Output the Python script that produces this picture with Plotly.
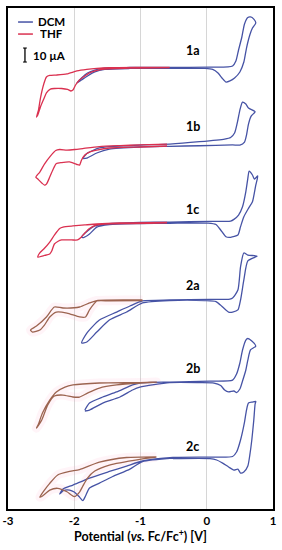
import plotly.graph_objects as go

# ---------------- data (potential V vs Fc/Fc+, current µA relative to each trace's baseline) -------------
compounds = ["1a", "1b", "1c", "2a", "2b", "2c"]
offsets_uA = [315.4, 260.0, 204.3, 149.3, 90.7, 36.4]
label_rel_uA = [11.8, 12.9, 10.0, 10.7, 10.0, 7.9]
label_v = -0.21

v_1a_dcm = [-1.96, -1.89, -1.80, -1.69, -1.54, -1.16, -0.56, 0.05, 0.32, 0.39, 0.44, 0.48, 0.53, 0.57, 0.62, 0.66, 0.71, 0.74,
            0.69, 0.65, 0.60, 0.56, 0.50, 0.42, 0.35, 0.29, 0.23, 0.17, 0.09, -0.03, -0.56, -1.16, -1.54, -1.69, -1.80, -1.89, -1.96]
i_1a_dcm = [-11.1, -7.5, -3.9, -1.8, -0.4, 0, 0.1, 0.2, 0.4, 1.1, 4.6, 12.5, 21.8, 31.1, 35.7, 36.1, 34.6, 31.8,
            28.2, 23.2, 13.9, 3.9, -3.2, -7.5, -9.6, -10.4, -7.5, -3.9, -1.4, -0.7, -0.6, -0.7, -1.4, -3.2, -6.1, -8.9, -11.1]
v_1a_thf = [-0.56, -1.16, -1.54, -1.66, -1.77, -1.84, -1.92, -1.98, -2.02, -2.05, -2.10, -2.19, -2.30, -2.36, -2.42, -2.46, -2.51, -2.55, -2.57,
            -2.54, -2.51, -2.46, -2.42, -2.37, -2.27, -2.11, -1.96, -1.81, -1.66, -1.47, -1.01, -0.56]
i_1a_thf = [0, -0.4, -1.1, -2.1, -3.9, -6.1, -8.9, -12.5, -16.1, -16.8, -15.7, -15, -15, -15.4, -18.2, -22.5, -28.2, -33.9, -35.4,
            -30.4, -21.8, -11.8, -6.8, -5.7, -5.4, -4.6, -2.5, -1.4, -0.7, -0.2, 0, 0.1]

v_1b_dcm = [-1.87, -1.80, -1.62, -1.47, -1.01, -0.56, -0.11, 0.27, 0.36, 0.42, 0.47, 0.50, 0.54, 0.59, 0.63, 0.73,
            0.67, 0.63, 0.60, 0.57, 0.50, 0.39, -0.11, -0.56, -1.01, -1.47, -1.66, -1.81, -1.87]
i_1b_dcm = [-9.3, -5.7, -2.1, -1.1, 0, 0.7, 2.4, 4.3, 5.4, 8.6, 17.9, 25, 30.7, 29.3, 26.4, 23.8,
            20.7, 15, 7.1, 2.1, 0, 0.1, -0.5, -0.9, -1.4, -2.9, -5.7, -9.3, -9.6]
v_1b_thf = [-0.60, -1.01, -1.47, -1.66, -1.77, -1.84, -1.89, -1.92, -1.96, -2.07, -2.19, -2.27, -2.31, -2.37, -2.42, -2.45, -2.49, -2.55, -2.58,
            -2.52, -2.45, -2.36, -2.28, -2.22, -2.11, -1.99, -1.87, -1.62, -1.31, -1.01, -0.60]
i_1b_thf = [-0.7, -1.4, -2.1, -3.6, -5, -7.1, -10.7, -14.3, -13.9, -12.1, -12.5, -13.2, -16.4, -22.9, -27.9, -28.6, -27.1, -24.3, -22.9,
            -19.3, -13.6, -7.9, -3.9, -3.2, -3.6, -3.2, -2.5, -1.1, -0.4, 0.1, 0.7]

v_1c_dcm = [-1.89, -1.80, -1.69, -1.54, -1.01, -0.56, 0.05, 0.36, 0.41, 0.48, 0.54, 0.59, 0.62, 0.64, 0.69, 0.72, 0.77,
            0.74, 0.69, 0.63, 0.56, 0.51, 0.47, 0.36, 0.29, 0.21, 0.14, 0.02, -0.56, -1.01, -1.47, -1.66, -1.77, -1.86, -1.89]
i_1c_dcm = [-10, -5.7, -2.1, -0.7, 0.4, 0.7, 1.1, 1.4, 2.6, 5.7, 11.6, 22.4, 31.9, 37.1, 34.3, 31.4, 33.6,
            27.1, 15.2, 10.5, 4.5, -2.6, -8.6, -10.2, -9.8, -5, -1.1, -0.1, -0.2, -0.4, -1.1, -2.9, -7.9, -10.4, -10]
v_1c_thf = [-0.60, -1.16, -1.54, -1.66, -1.77, -1.84, -1.90, -1.95, -2.04, -2.19, -2.25, -2.30, -2.34, -2.37, -2.45, -2.55,
            -2.52, -2.46, -2.37, -2.30, -2.22, -2.17, -2.02, -1.84, -1.66, -1.31, -0.60]
i_1c_thf = [0, -0.4, -0.7, -1.4, -3.9, -7.1, -10.4, -12.1, -12.1, -12.1, -13.2, -15, -20, -22.1, -23.2, -24.3,
            -21.4, -18.6, -13.6, -8.6, -3.9, -2.9, -2.1, -1.4, -0.7, 0, 0.4]

v_2a_dcm = [-1.89, -1.81, -1.62, -1.36, -1.16, -0.97, -0.56, 0.05, 0.35, 0.39, 0.47, 0.51, 0.56, 0.62, 0.76,
            0.62, 0.56, 0.51, 0.47, 0.39, 0.33, 0.24, 0.14, -0.03, -0.56, -0.97, -1.21, -1.47, -1.66, -1.81, -1.89]
i_2a_dcm = [-30.7, -23.6, -14.3, -8.6, -4.3, -0.7, 0, 0.4, 0.7, 1.4, 7.1, 23.6, 33.6, 32.1, 31.4,
            27.9, 14.3, 0, -7.1, -8.6, -8.6, -5, -1.1, -0.4, -0.4, -2.1, -8.6, -14.3, -22.9, -30, -30.7]
v_2a_thf = [-0.97, -1.47, -1.66, -1.69, -1.77, -1.83, -1.92, -2.11, -2.27, -2.37, -2.45, -2.52, -2.63, -2.66,
            -2.57, -2.42, -2.30, -2.17, -1.92, -1.77, -1.66, -0.97]
i_2a_thf = [-0.4, -0.6, -0.7, -2.1, -7.1, -12.1, -12.1, -9.3, -8.6, -12.1, -17.9, -21.4, -22.9, -21.4,
            -18.6, -12.1, -5, -5.7, -5, -2.1, -0.4, 0]

v_2b_dcm = [-1.84, -1.77, -1.57, -1.36, -1.12, -1.01, -0.56, 0.05, 0.39, 0.45, 0.50, 0.54, 0.59, 0.62, 0.68, 0.74,
            0.66, 0.62, 0.59, 0.54, 0.50, 0.45, 0.41, 0.33, 0.27, 0.21, 0.11, -0.11, -0.56, -1.01, -1.12, -1.31, -1.57, -1.77, -1.84]
i_2b_dcm = [-20, -15, -10.7, -7.1, -2.1, -0.7, 0, 0.7, 1.4, 5.7, 13.6, 22.9, 30, 31.1, 29.3, 25.7,
            22.9, 15.7, 8.6, 0.7, -5, -7.5, -6.4, -7.1, -5.7, -2.5, -0.7, -0.4, -0.4, -3.6, -5.7, -10.7, -15, -20, -20.7]
v_2b_thf = [-0.76, -1.01, -1.36, -1.62, -1.80, -1.92, -2.02, -2.17, -2.30, -2.40, -2.49, -2.57,
            -2.54, -2.48, -2.37, -2.27, -2.14, -2.02, -1.62, -1.01, -0.76]
i_2b_thf = [0, -0.7, -2.1, -4.3, -7.9, -10.7, -10.7, -9.3, -10, -16.4, -27.1, -32.9,
            -30, -22.1, -12.9, -7.1, -3.6, -2.1, -0.7, -0.4, 0]

v_2c_dcm = [-0.51, -0.97, -1.16, -1.42, -1.62, -1.77, -1.83, -1.87, -1.92, -2.00, -2.07, -2.16, -2.22,
            -2.17, -2.02, -1.77, -1.47, -1.21, -0.97, -0.51, 0.05, 0.39, 0.45, 0.51, 0.57, 0.60, 0.63, 0.69, 0.74,
            0.73, 0.71, 0.68, 0.65, 0.62, 0.56, 0.51, 0.47, 0.41, 0.33, 0.24, 0.15, 0.05, -0.51]
i_2c_dcm = [0, -2.5, -7.9, -13.2, -17.9, -21.4, -27.1, -30.4, -27.9, -24.3, -22.9, -23.2, -25.7,
            -22.1, -19.3, -14.3, -9.6, -5.7, -2.1, 0.4, 0.7, 1.1, 4.3, 12.9, 25.7, 34.3, 39.3, 40, 40.4,
            38.6, 27.1, 12.9, 2.1, -5.7, -10, -10.7, -7.9, -8.6, -6.4, -3.6, -1.4, -0.4, -0.4]
v_2c_thf = [-0.76, -1.01, -1.47, -1.69, -1.80, -1.87, -1.92, -2.00, -2.11, -2.25, -2.37, -2.49, -2.52,
            -2.45, -2.37, -2.25, -2.07, -1.92, -1.62, -1.21, -0.76]
i_2c_thf = [0.7, -0.9, -5, -9.3, -14.3, -20, -24.3, -27.5, -24.1, -21.6, -22.9, -27.5, -27.9,
            -22.9, -18.1, -12.1, -9.6, -8.2, -2.9, 0.4, 0.9]

dcm_v = [v_1a_dcm, v_1b_dcm, v_1c_dcm, v_2a_dcm, v_2b_dcm, v_2c_dcm]
dcm_i = [i_1a_dcm, i_1b_dcm, i_1c_dcm, i_2a_dcm, i_2b_dcm, i_2c_dcm]
thf_v = [v_1a_thf, v_1b_thf, v_1c_thf, v_2a_thf, v_2b_thf, v_2c_thf]
thf_i = [i_1a_thf, i_1b_thf, i_1c_thf, i_2a_thf, i_2b_thf, i_2c_thf]

scale_bar_uA = 10
x_ticks = [-3, -2, -1, 0, 1]

# ---------------- styles -------------
BLUE = "#4653a5"
RED = "#da3150"
BROWN = "#9c6450"
FONT = "Lato"

fig = go.Figure()

for k, name in enumerate(compounds):
    off = offsets_uA[k]
    thf_color = RED if name.startswith("1") else BROWN
    if not name.startswith("1"):
        fig.add_trace(go.Scatter(x=thf_v[k], y=[off + c for c in thf_i[k]], mode="lines",
                                 line=dict(color="rgba(255,150,190,0.10)", width=9, shape="spline", smoothing=0.6),
                                 hoverinfo="skip", showlegend=False))
    fig.add_trace(go.Scatter(x=dcm_v[k], y=[off + c for c in dcm_i[k]], mode="lines",
                             line=dict(color=BLUE, width=1.3, shape="spline", smoothing=0.6),
                             name="DCM", showlegend=False))
    fig.add_trace(go.Scatter(x=thf_v[k], y=[off + c for c in thf_i[k]], mode="lines",
                             line=dict(color=thf_color, width=1.3, shape="spline", smoothing=0.6),
                             name="THF", showlegend=False))
    fig.add_annotation(x=label_v, y=off + label_rel_uA[k], text="<b>%s</b>" % name, showarrow=False,
                       font=dict(family=FONT, size=12.5, color="black"), xanchor="center", yanchor="middle")

# manual legend
fig.add_shape(type="line", xref="paper", yref="paper", x0=0.038, x1=0.094, y0=0.972, y1=0.972,
              line=dict(color=BLUE, width=1.5))
fig.add_shape(type="line", xref="paper", yref="paper", x0=0.038, x1=0.094, y0=0.948, y1=0.948,
              line=dict(color=RED, width=1.5))
fig.add_annotation(xref="paper", yref="paper", x=0.166, y=0.974, text="<b>DCM</b>", showarrow=False,
                   font=dict(family=FONT, size=11.5, color="black"), xanchor="center", yanchor="middle",
                   height=11, borderpad=0)
fig.add_annotation(xref="paper", yref="paper", x=0.166, y=0.949, text="<b>THF</b>", showarrow=False,
                   font=dict(family=FONT, size=11.5, color="black"), xanchor="center", yanchor="middle",
                   height=11, borderpad=0)
sb_top = 329.3
fig.add_shape(type="line", xref="paper", yref="y", x0=0.064, x1=0.064, y0=sb_top - scale_bar_uA, y1=sb_top,
              line=dict(color="black", width=1.3))
for yy in (sb_top - scale_bar_uA, sb_top):
    fig.add_shape(type="line", xref="paper", yref="y", x0=0.057, x1=0.071, y0=yy, y1=yy,
                  line=dict(color="black", width=1.1))
fig.add_annotation(xref="paper", yref="y", x=0.158, y=sb_top - scale_bar_uA / 2, text="<b>%d µA</b>" % scale_bar_uA,
                   showarrow=False, font=dict(family=FONT, size=11.5, color="black"), xanchor="center", yanchor="middle")

fig.update_layout(
    width=282, height=550,
    margin=dict(l=8, r=9, t=8, b=41),
    paper_bgcolor="white", plot_bgcolor="white",
    showlegend=False,
    xaxis=dict(range=[-3, 1], tickvals=x_ticks, ticktext=["<b>%d</b>" % t for t in x_ticks],
               tickfont=dict(family=FONT, size=11.5, color="black"), automargin=False,
               showgrid=True, gridcolor="#d6d6d6", gridwidth=1, zeroline=False,
               showline=True, mirror=True, linecolor="black", linewidth=1.5, ticks="",
               title=dict(text="<b>Potential (<i>vs.</i> Fc/Fc<sup>+</sup>) [V]</b>",
                          font=dict(family=FONT, size=12.5, color="black"), standoff=3)),
    yaxis=dict(range=[0, 357.9], showticklabels=False, showgrid=False, zeroline=False, automargin=False,
               showline=True, mirror=True, linecolor="black", linewidth=1.5, ticks=""),
)

fig.write_html("out.html", config={"displayModeBar": False},
               post_script="document.body.style.margin='0';document.body.style.overflow='hidden';")
